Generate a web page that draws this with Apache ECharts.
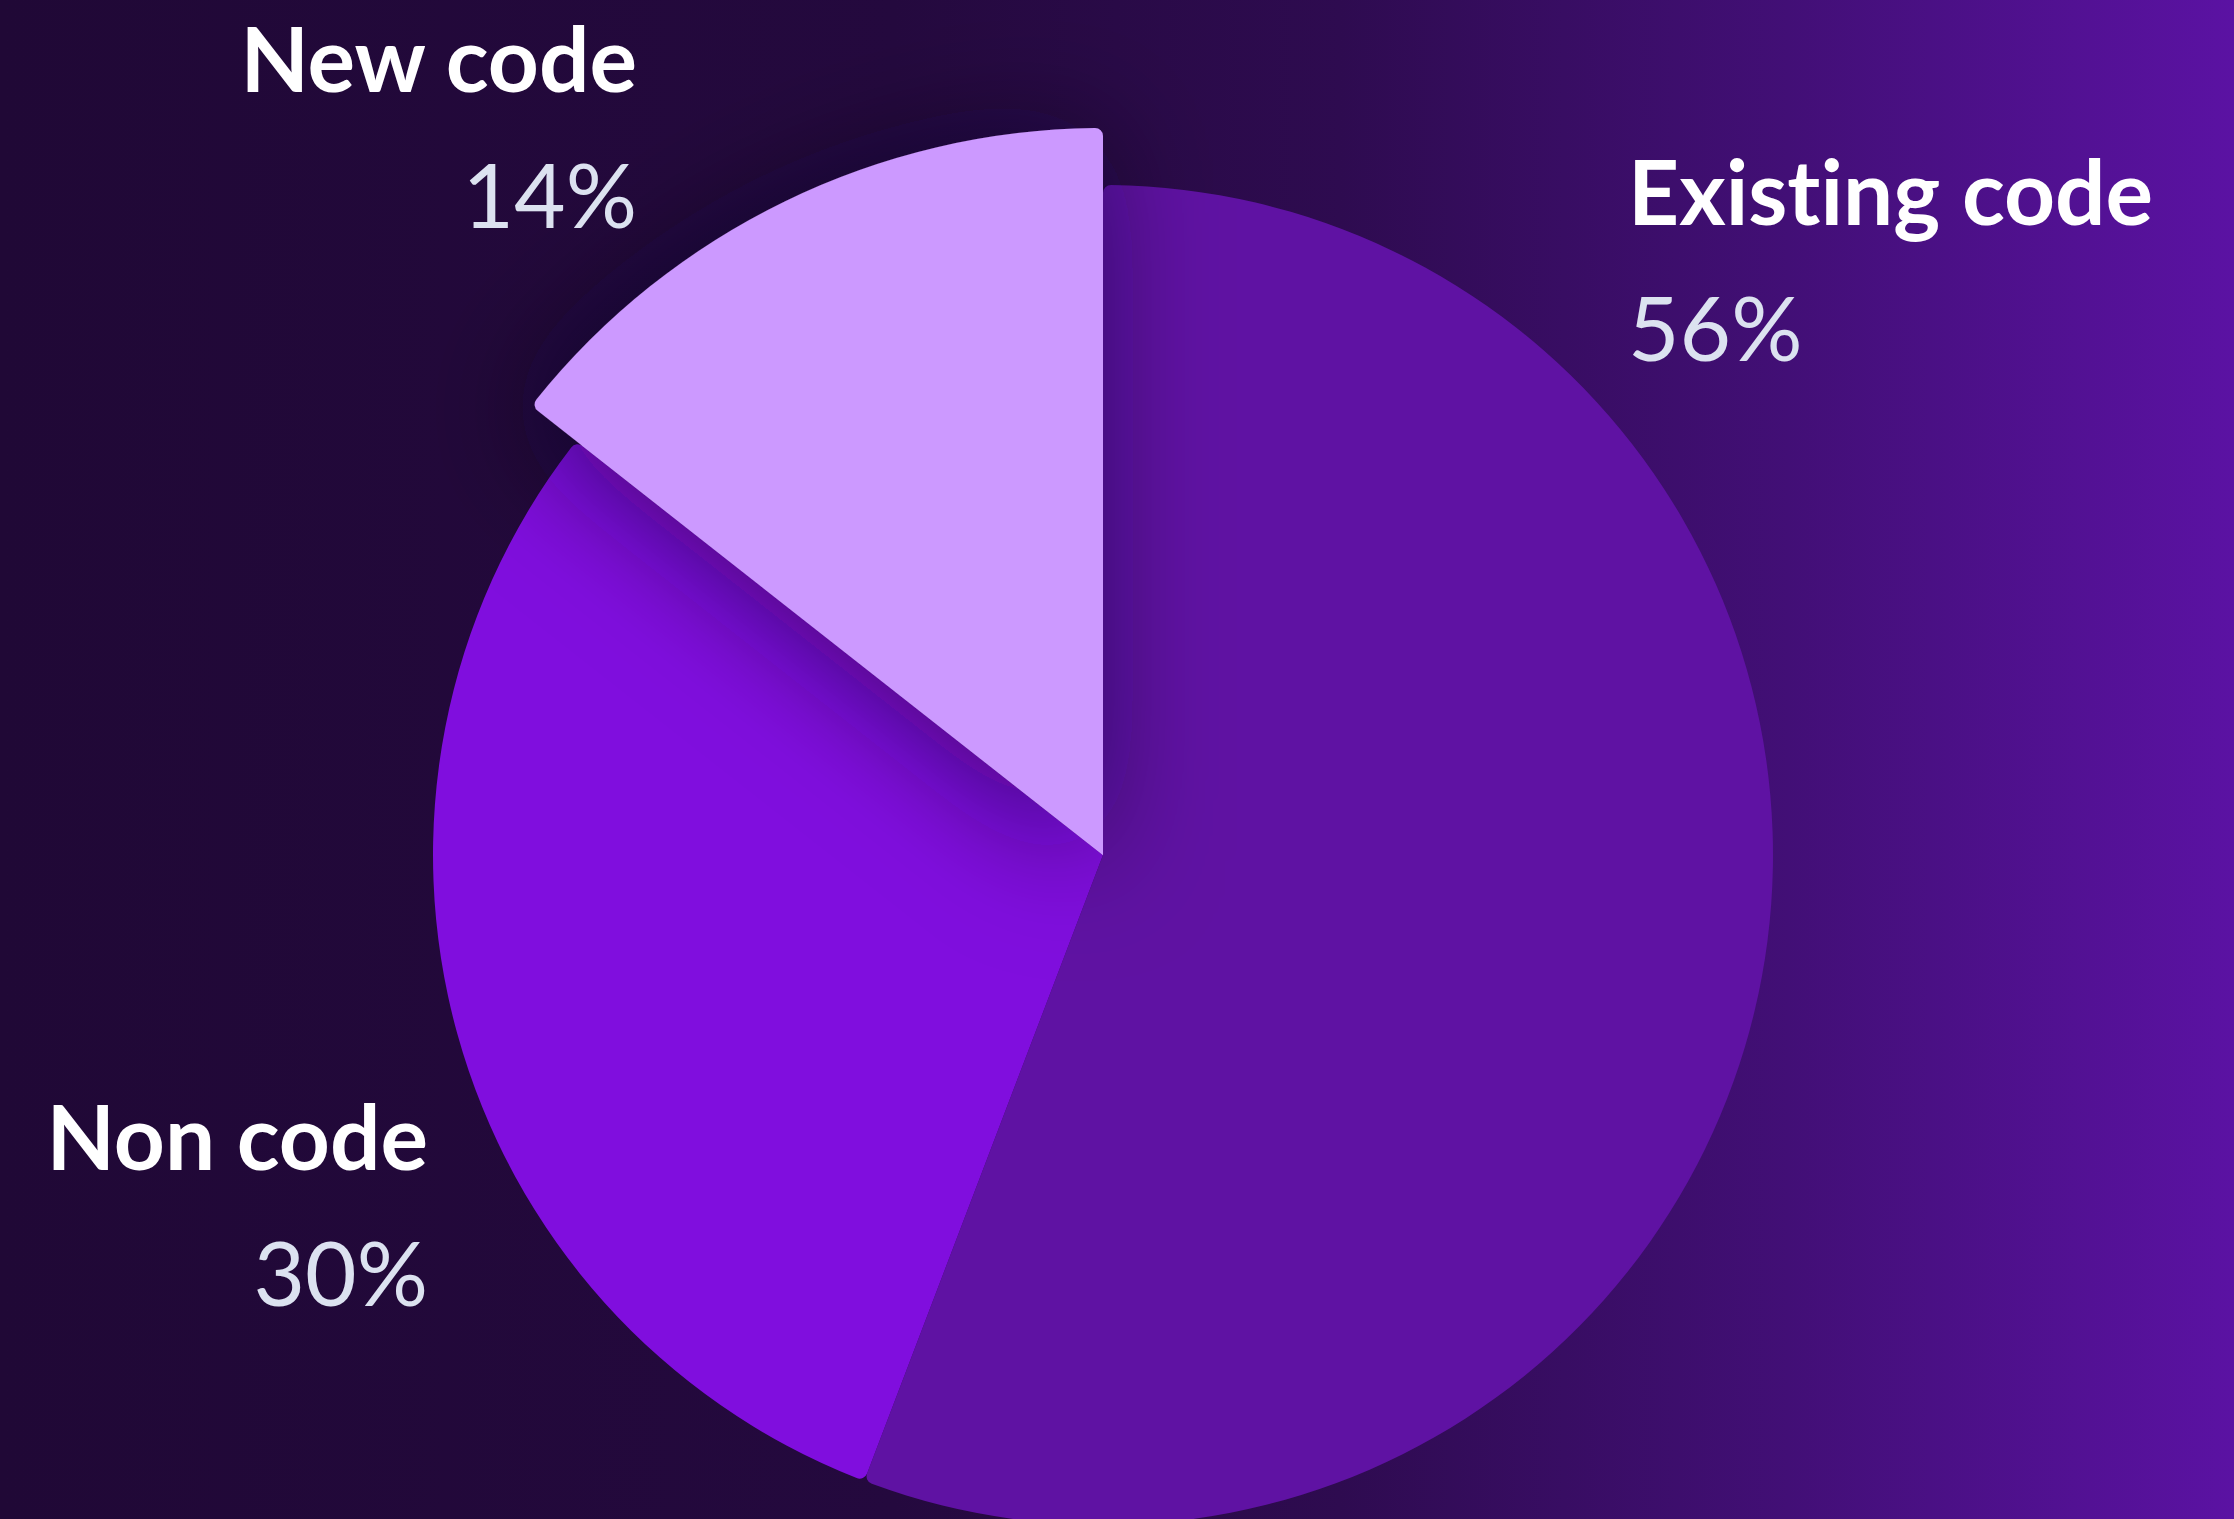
<!DOCTYPE html>
<html>
<head>
<meta charset="utf-8">
<style>
html,body{margin:0;padding:0;width:2234px;height:1519px;overflow:hidden;background:#200836;}
#chart{width:2234px;height:1519px;}
#chart text{font-variant-ligatures:none;font-feature-settings:"liga" 0, "clig" 0;}
</style>
<script src="https://cdn.jsdelivr.net/npm/echarts@6/dist/echarts.min.js"></script>
</head>
<body>
<div id="chart"></div>
<script>
const categories = ['Existing code', 'Non code', 'New code'];
const values = [55.8, 29.8, 14.4];
const colors = ['#5F12A3', '#800EDE', '#CC99FF'];
const highlighted = 'New code';

const labelSpots = {
  'Existing code': { x: 1628, y: 258, align: 'left' },
  'Non code': { x: 428, y: 1203, align: 'right' },
  'New code': { x: 637, y: 125, align: 'right' }
};

const FONT = 'Lato, "Noto Sans", sans-serif';

const baseData = categories.map((c, i) => ({
  name: c, value: values[i],
  itemStyle: { color: colors[i] }
}));
const topData = categories.map((c, i) => ({
  name: c, value: values[i],
  itemStyle: c === highlighted
    ? { color: colors[i], shadowColor: 'rgba(10,0,30,0.55)', shadowBlur: 120, shadowOffsetX: -10, shadowOffsetY: 10 }
    : { color: 'rgba(0,0,0,0)' }
}));

const chart = echarts.init(document.getElementById('chart'), null, { renderer: 'svg' });
chart.setOption({
  backgroundColor: {
    type: 'linear', x: 0, y: 0, x2: 1, y2: 0,
    colorStops: [
      { offset: 0, color: '#200836' },
      { offset: 0.4, color: '#24093E' },
      { offset: 0.6, color: '#2E0B50' },
      { offset: 0.8, color: '#420F76' },
      { offset: 1, color: '#5B12A3' }
    ]
  },
  animation: false,
  series: [
    {
      type: 'pie',
      center: [1103, 855],
      radius: [0, 670],
      startAngle: 90,
      clockwise: true,
      silent: true,
      emphasis: { disabled: true },
      itemStyle: { borderRadius: 8 },
      data: baseData,
      labelLine: { show: false },
      label: {
        show: true,
        position: 'outside',
        overflow: 'none',
        formatter: p => '{n|' + p.name + '}\n{p|' + Math.round(p.value) + '%}',
        rich: {
          n: { fontFamily: FONT, fontWeight: 'bold', fontSize: 89, color: '#FFFFFF', lineHeight: 136 },
          p: { fontFamily: FONT, fontWeight: 'normal', fontSize: 89, color: '#DCE2F0', lineHeight: 136 }
        }
      },
      labelLayout: params => {
        const s = labelSpots[categories[params.dataIndex]];
        return { x: s.x, y: s.y, align: s.align, verticalAlign: 'middle' };
      }
    },
    {
      type: 'pie',
      center: [1103, 855],
      radius: [0, 727],
      startAngle: 90,
      clockwise: true,
      silent: true,
      emphasis: { disabled: true },
      itemStyle: { borderRadius: 8 },
      label: { show: false },
      labelLine: { show: false },
      data: topData
    }
  ]
});
</script>
</body>
</html>
